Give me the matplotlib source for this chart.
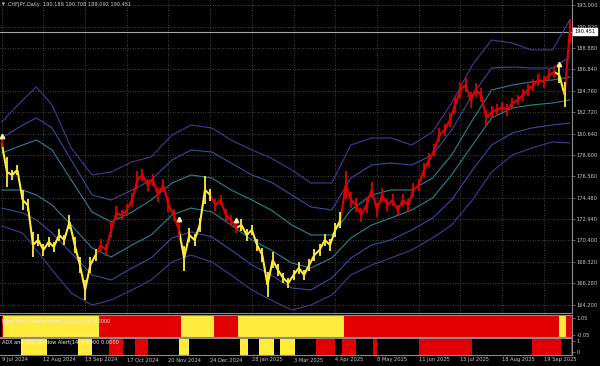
import numpy as np
import matplotlib
matplotlib.use("Agg")
import matplotlib.pyplot as plt
from matplotlib.collections import LineCollection
import matplotlib.transforms as mtransforms

# ---------------- data ----------------
title_text = "CHFJPY,Daily  190.189 190.708 189.092 190.451"
last_price = 190.451

# close, one value every 3 daily bars
step = 3
close = [179.75, 176.97, 176.68, 177.16, 174.28, 173.80, 169.96, 170.44, 169.48, 170.25,
         169.77, 170.92, 170.44, 172.17, 169.96, 168.04, 165.64, 168.04, 169.00, 169.96,
         169.48, 171.40, 173.03, 172.84, 173.32, 174.28, 176.20, 176.68, 175.72, 176.20,
         174.76, 175.72, 173.80, 172.84, 171.40, 168.71, 170.92, 170.44, 171.88, 175.24,
         174.76, 173.80, 174.28, 172.84, 172.36, 171.59, 171.88, 170.92, 171.40, 169.96,
         169.00, 166.12, 168.52, 167.56, 166.79, 166.31, 167.08, 167.75, 167.08, 168.04,
         169.00, 169.48, 170.44, 169.96, 171.40, 172.36, 175.72, 174.28, 173.80, 172.84,
         173.80, 175.24, 173.32, 174.76, 173.80, 174.28, 173.32, 174.28, 173.80, 175.24,
         175.72, 177.16, 178.12, 179.08, 180.52, 181.00, 181.96, 183.40, 184.84, 185.32,
         183.88, 184.84, 184.36, 182.15, 182.73, 182.92, 183.21, 182.92, 183.59, 183.88,
         184.36, 184.84, 185.32, 185.80, 185.61, 186.28, 186.57, 186.28, 184.36, 190.45]
# half of the visible bar range around each close
half_range = [0.4, 1.4, 0.5, 0.5, 1.0, 0.6, 1.2, 0.6, 0.6, 0.5,
              0.5, 0.6, 0.5, 0.7, 0.8, 0.8, 1.0, 0.8, 0.6, 0.6,
              0.6, 0.8, 0.7, 0.5, 0.6, 0.7, 0.9, 0.6, 0.6, 0.6,
              0.7, 0.6, 0.7, 0.6, 0.8, 1.2, 0.7, 0.6, 0.7, 1.3,
              0.6, 0.6, 0.5, 0.6, 0.5, 0.5, 0.6, 0.6, 0.5, 0.6,
              0.7, 1.2, 0.8, 0.6, 0.5, 0.5, 0.5, 0.6, 0.5, 0.6,
              0.6, 0.6, 0.6, 0.6, 0.7, 0.8, 1.3, 0.8, 0.7, 0.7,
              0.8, 0.8, 0.7, 0.7, 0.6, 0.6, 0.5, 0.6, 0.6, 0.7,
              0.6, 0.7, 0.7, 0.6, 0.7, 0.6, 0.7, 0.8, 0.8, 0.7,
              0.8, 0.7, 0.7, 0.8, 0.6, 0.6, 0.5, 0.6, 0.5, 0.5,
              0.6, 0.6, 0.6, 0.6, 0.6, 0.6, 0.6, 0.8, 1.2, 1.2]

# trend state runs (colour, number of bars)
trend_runs = [("red", 1), ("yellow", 55), ("red", 47), ("yellow", 19), ("red", 14),
              ("yellow", 61), ("red", 124), ("yellow", 4), ("red", 4)]

# envelope bands, sampled at these bars
band_bars = [0, 12, 20, 29, 40, 52, 63, 75, 86, 98, 109, 121, 132, 144, 155,
             167, 178, 190, 201, 213, 224, 236, 248, 259, 271, 282, 294, 305, 317, 327]
upper3 = [181.77, 183.88, 185.13, 183.40, 179.27, 176.68, 176.97, 177.93, 178.41, 180.52,
          181.48, 181.19, 180.04, 179.08, 178.31, 177.16, 175.91, 175.91, 179.56, 180.23,
          180.23, 179.56, 180.81, 183.59, 187.24, 189.64, 189.35, 188.68, 188.68, 191.56]
upper2 = [180.23, 181.48, 182.15, 181.19, 178.12, 174.76, 174.28, 175.24, 176.20, 178.12,
          179.08, 178.89, 177.83, 176.68, 176.01, 174.76, 173.61, 173.32, 176.39, 177.64,
          177.83, 177.64, 178.60, 181.00, 184.36, 186.95, 187.05, 186.95, 186.95, 188.01]
upper1 = [178.79, 179.56, 180.04, 179.08, 176.20, 173.13, 172.17, 173.13, 174.28, 175.91,
          176.68, 176.39, 175.24, 174.28, 173.32, 171.88, 170.92, 170.92, 173.32, 174.76,
          175.24, 175.24, 176.39, 178.60, 181.96, 184.84, 185.32, 185.61, 185.80, 186.09]
lower1 = [175.24, 175.24, 174.76, 173.80, 171.88, 169.67, 168.81, 169.96, 170.92, 172.84,
          173.51, 173.13, 171.88, 170.44, 169.48, 168.23, 167.75, 168.71, 170.63, 171.88,
          172.55, 173.32, 174.47, 176.68, 179.56, 182.15, 183.11, 183.40, 183.59, 183.88]
lower2 = [173.51, 173.03, 172.36, 171.11, 169.19, 167.08, 166.60, 167.75, 168.71, 170.63,
          171.21, 170.73, 169.48, 168.04, 167.08, 165.83, 165.64, 166.79, 168.71, 169.96,
          170.44, 171.40, 172.55, 174.28, 177.16, 179.56, 180.71, 181.19, 181.48, 181.67]
lower3 = [171.78, 171.11, 169.48, 167.56, 165.35, 164.20, 164.68, 165.64, 166.60, 168.33,
          169.00, 168.33, 167.08, 165.64, 164.68, 163.72, 164.20, 165.16, 167.08, 168.04,
          168.71, 169.48, 170.63, 171.88, 174.28, 176.97, 178.60, 179.27, 179.85, 179.75]

# ADX alert blocks (start bar, end bar, colour)
adx_start = [11, 44, 62, 77, 102, 137, 148, 160, 181, 196, 214, 240, 305, 327.5]
adx_end = [26, 52, 70, 84, 108, 142, 157, 169, 192, 204, 216, 271, 322, 329]
adx_color = ["yellow", "yellow", "red", "red", "yellow", "yellow", "yellow", "yellow",
             "red", "red", "red", "red", "red", "red"]

price_ticks = [193.000, 190.920, 188.880, 186.840, 184.760, 182.720, 180.640, 178.600,
               176.560, 174.480, 172.440, 170.400, 168.320, 166.280, 164.200]
date_labels = ["9 Jul 2024", "12 Aug 2024", "13 Sep 2024", "17 Oct 2024", "20 Nov 2024",
               "24 Dec 2024", "28 Jan 2025", "3 Mar 2025", "4 Apr 2025", "8 May 2025",
               "11 Jun 2025", "15 Jul 2025", "18 Aug 2025", "19 Sep 2025"]
date_step = 24

# ---------------- styling ----------------
RED = "#e00000"
YEL = "#ffeb3b"
GRID = "#5a5a5a"
TXT = "#c8c8c8"
SEP = "#8a8a8a"
cols = {"red": RED, "yellow": YEL}

plt.rcParams["font.family"] = ["DejaVu Sans"]
fig = plt.figure(figsize=(6.0, 3.66), dpi=100, facecolor="black")

H = 366.0
W = 600.0
right = 572 / W
ax = fig.add_axes([0, 1 - 313 / H, right, 313 / H])
ax1 = fig.add_axes([0, 1 - 337 / H, right, 22 / H])
ax2 = fig.add_axes([0, 1 - 355 / H, right, 17 / H])

xmin, xmax = -1, 328.3
for a in (ax, ax1, ax2):
    a.set_facecolor("black")
    a.set_xlim(xmin, xmax)
    for s in ("left", "top"):
        a.spines[s].set_visible(False)
    for s in ("right", "bottom"):
        a.spines[s].set_color(SEP)
        a.spines[s].set_linewidth(0.8)
    a.yaxis.tick_right()
    a.tick_params(axis="y", colors=SEP, labelcolor=TXT, labelsize=3.7, length=2,
                  width=0.5, pad=1.5)
    a.set_xticks([])
for a in (ax1, ax2):
    a.spines["top"].set_visible(True)
    a.spines["top"].set_color(SEP)

# state per bar
state = []
for c, n in trend_runs:
    state += [c] * n

# ---------------- main panel ----------------
ax.set_ylim(163.43, 193.48)
ax.set_yticks(price_ticks)
ax.set_yticklabels(["%.3f" % v for v in price_ticks])
grid_bars = [date_step * j for j in range(len(date_labels))]
for b in grid_bars:
    ax.axvline(b, color=GRID, lw=0.6, ls=(0, (1, 2)), zorder=0)
for v in price_ticks:
    ax.axhline(v, color=GRID, lw=0.6, ls=(0, (1, 2)), zorder=0)

band_style = [(upper3, "#4e3596"), (upper2, "#3b4aa3"), (upper1, "#23858f"),
              (lower1, "#23858f"), (lower2, "#3b4aa3"), (lower3, "#4e3596")]
for vals, c in band_style:
    ax.plot(band_bars, vals, color=c, lw=0.8, zorder=2)

# current price line
ax.axhline(last_price, color="#a8a8a8", lw=0.8, zorder=1)

# price coloured by trend state
bars = np.arange(len(close)) * step
close_a = np.array(close)
rng = np.array(half_range)
pts = np.column_stack([bars, close_a])
segs = np.stack([pts[:-1], pts[1:]], axis=1)
seg_cols = [cols[state[min(int(b), len(state) - 1)]] for b in bars[1:]]
ax.add_collection(LineCollection(segs, colors=seg_cols, linewidths=1.5, zorder=3))
bar_cols = [cols[state[min(int(b), len(state) - 1)]] for b in bars]
ax.vlines(bars, close_a - rng, close_a + rng, colors=bar_cols, lw=1.3, zorder=3)

# small arrows where the trend turns yellow
pos = 0
for c, n in trend_runs:
    if c == "yellow":
        k = pos // step
        ax.plot(bars[k], close[k] + half_range[k] + 0.25, marker="^", ms=3.2,
                color="#fff3b0", mec="#fff3b0", zorder=4)
    pos += n

trans = mtransforms.blended_transform_factory(ax.transAxes, ax.transData)
ax.text(1.004, last_price, "%.3f" % last_price, transform=trans, fontsize=3.7,
        color="black", va="center", ha="left",
        bbox=dict(boxstyle="square,pad=0.25", fc="white", ec="white"))

fig.text(0.004, 0.988, "\u25bc", fontsize=2.8, color=TXT, va="center", ha="left")
fig.text(0.014, 0.988, title_text, fontsize=3.6, color=TXT, va="center", ha="left")

# ---------------- trend panel ----------------
ax1.set_ylim(-0.2, 1.25)
ax1.set_yticks([1.05, -0.05])
ax1.set_yticklabels(["1.05", "-0.05"])
pos = 0
for c, n in trend_runs:
    ax1.axvspan(pos, pos + n, facecolor=cols[c], edgecolor="none", zorder=1)
    pos += n
ax1.text(0.004, 0.72, "Dual Trend Heatwindow(20) 1.0000 0.0000", transform=ax1.transAxes,
         fontsize=3.6, color="#f0f0f0", va="center", ha="left", zorder=3)

# ---------------- ADX panel ----------------
ax2.set_ylim(-0.3, 1.3)
ax2.set_yticks([1, 0])
ax2.set_yticklabels(["1", "0"])
for s, e, c in zip(adx_start, adx_end, adx_color):
    ax2.axvspan(s, e, facecolor=cols[c], edgecolor="none", zorder=1)
ax2.text(0.004, 0.75, "ADX and DMI Window Alert(14) 1.0000 0.0000", transform=ax2.transAxes,
         fontsize=3.6, color="#f0f0f0", va="center", ha="left", zorder=3)

# date labels
date_tr = mtransforms.blended_transform_factory(ax2.transData, fig.transFigure)
for b, lab in zip(grid_bars, date_labels):
    fig.text(b, 1 - 360 / H, lab, transform=date_tr, fontsize=3.7, color=TXT,
             va="center", ha="left")

fig.savefig("out.png", dpi=100, facecolor="black")
